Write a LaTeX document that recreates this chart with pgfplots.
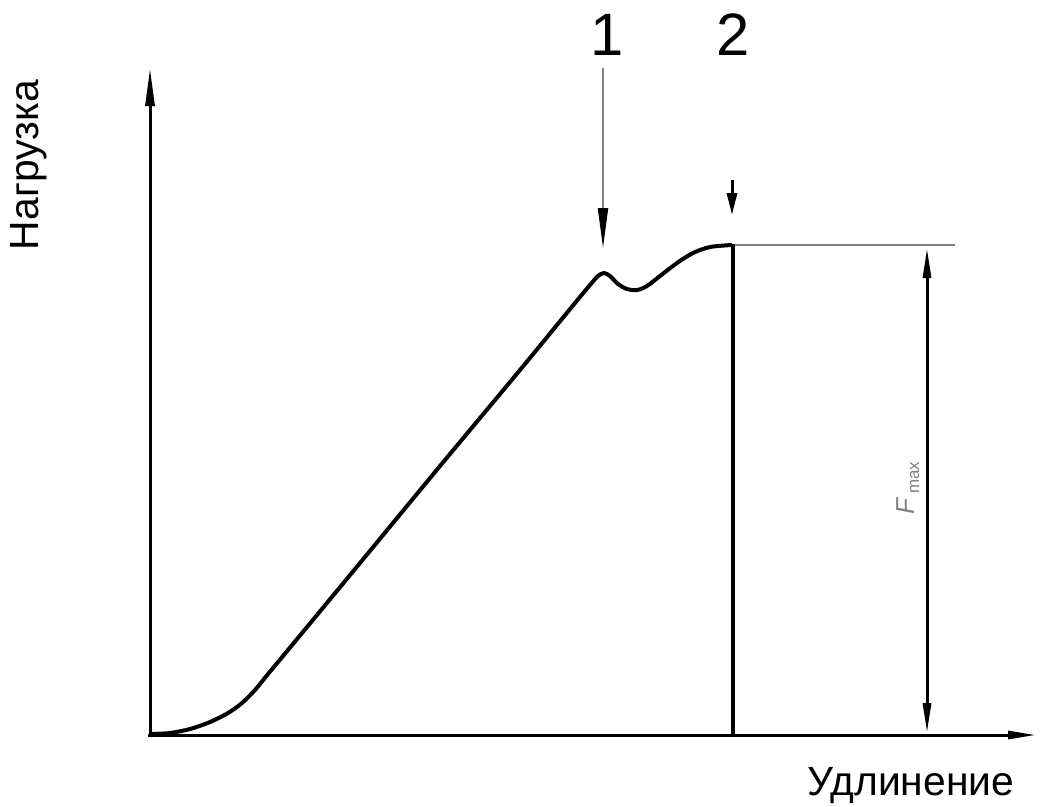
\documentclass[border=0pt]{standalone}
\usepackage{fontspec}
\setmainfont{Liberation Sans}
\usepackage{pgfplots}
\pgfplotsset{compat=1.18}
\usetikzlibrary{arrows.meta}
\definecolor{dim}{gray}{0.5}
\begin{document}
\begin{tikzpicture}
\begin{axis}[
  scale only axis, width=1051bp, height=805bp,
  xmin=0, xmax=1051, ymin=0, ymax=805, y dir=reverse,
  hide axis, clip=false]
\path (axis cs:0,0) rectangle (axis cs:1051,805);
% axes
\addplot[black, line width=3bp, -{Triangle[length=38bp,width=9bp]}] coordinates {(150,737) (150,68)};
\addplot[black, line width=3bp, -{Triangle[length=28bp,width=8bp]}] coordinates {(148,735) (1036,735)};
% curve
\addplot[black, line width=4bp, smooth, tension=0.5] coordinates {
 (150,734) (170,733) (190,729) (210,722) (228,713) (242,703) (255,690) (268,674) (283,656)
 (360,563) (440,466) (520,370) (575,303) (590,285) (598,276) (604,273) (610,276) (618,284) (627,289)
 (637,290) (647,286) (660,276) (677,263) (693,253) (710,247) (732,245)};
% vertical drop
\addplot[black, line width=4bp] coordinates {(733,244) (733,736)};
% plateau extension
\addplot[dim, line width=1.5bp] coordinates {(735,245) (955,245)};
% dimension line
\addplot[black, line width=3bp, {Triangle[length=30bp,width=8bp]}-{Triangle[length=30bp,width=8bp]}] coordinates {(927,248) (927,733)};
% marker arrows
\addplot[dim, line width=2bp, -{Triangle[length=40bp,width=10bp,color=black]}] coordinates {(603,68) (603,248)};
\addplot[black, line width=3bp, -{Triangle[length=22bp,width=10bp]}] coordinates {(732,180) (732,215)};
% texts
\node[font=\fontsize{60}{60}\selectfont, anchor=base] at (axis cs:607,55) {1};
\node[font=\fontsize{60}{60}\selectfont, anchor=base] at (axis cs:733,55) {2};
\node[font=\fontsize{41}{41}\selectfont, rotate=90, anchor=base] at (axis cs:38,165) {Нагрузка};
\node[font=\fontsize{41}{41}\selectfont, anchor=base] at (axis cs:911,795) {Удлинение};
\node[text=dim, rotate=90, anchor=base, font=\fontsize{26}{26}\selectfont] at (axis cs:914,488) {\itshape F\,\upshape\fontsize{17}{17}\selectfont\raisebox{-5bp}{max}};
\end{axis}
\end{tikzpicture}
\end{document}
